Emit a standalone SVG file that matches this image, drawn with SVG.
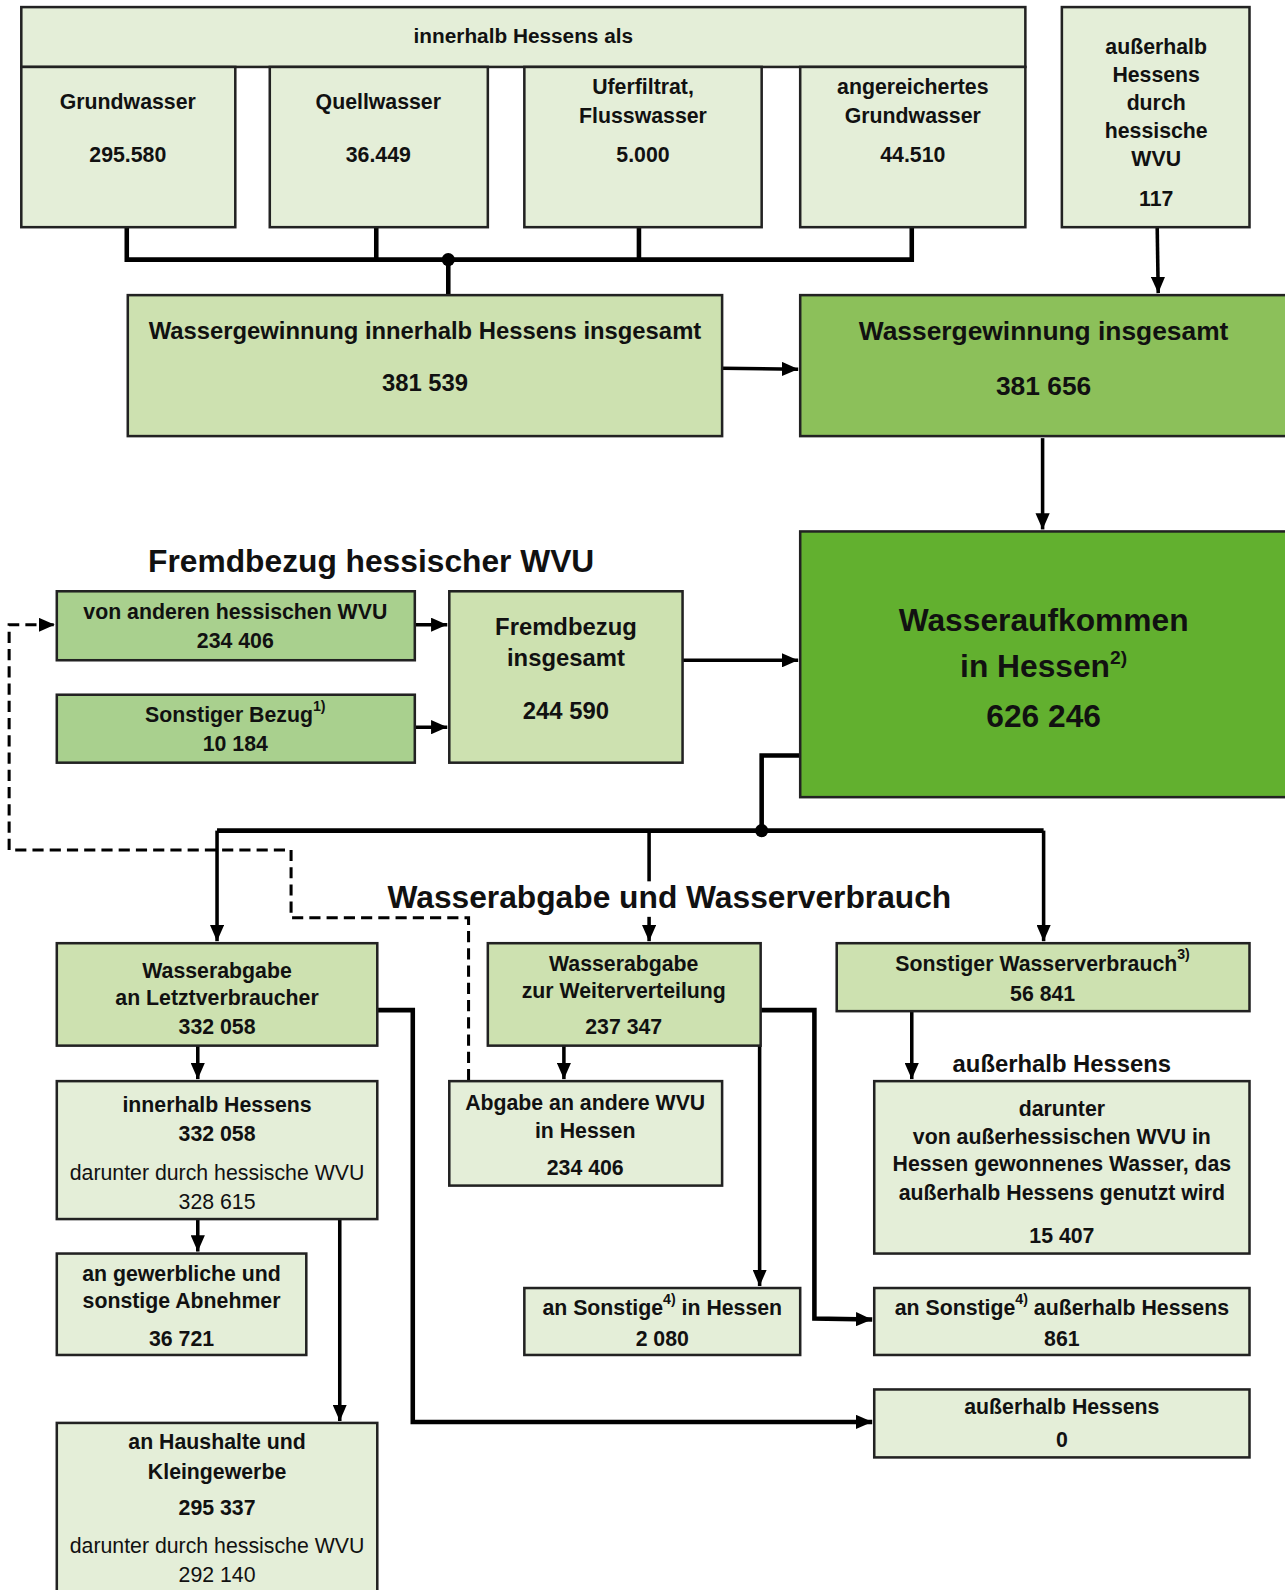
<svg xmlns="http://www.w3.org/2000/svg" width="1285" height="1590" viewBox="0 0 1285 1590">
<defs>
<style>
.t{font-family:"Liberation Sans",Arial,sans-serif;font-weight:bold;text-anchor:middle;font-size:21px;fill:#111}
.rg{font-weight:normal}
.f20{font-size:20.5px}.f23{font-size:23.5px}.f26{font-size:26px}.f31{font-size:31.3px}
.box{stroke:#222;stroke-width:2.5}
.c1{fill:#e4eed8}.c2{fill:#cde1b0}.c3{fill:#a9d08e}.c4{fill:#8cc05a}.c5{fill:#62b02f}
.ln{fill:none;stroke:#000;stroke-width:3.5}
.th{stroke-width:4.5}
.ar{marker-end:url(#ah)}
.ds{stroke-dasharray:11 6;stroke-width:3}
.sup{font-size:14px}
.sup2{font-size:19px}
</style>
<marker id="ah" markerUnits="userSpaceOnUse" markerWidth="16" markerHeight="14" refX="16" refY="7" orient="auto"><path d="M0,0 L16,7 L0,14 z" fill="#000"/></marker>
</defs>
<rect width="1285" height="1590" fill="#fff"/>
<g transform="scale(1.0142)">
<g id="connectors">
<path class="ln th" d="M125,224 V256 H899 V224 M371,224 V256 M630,224 V256 M442,256 V291"/>
<circle cx="442" cy="256" r="6.5"/>
<path class="ln ar" d="M712,363 L787,364"/>
<path class="ln ar" d="M1141,224 L1142,289"/>
<path class="ln ar" d="M1028,432 V522"/>
<path class="ln ar" d="M409,616 H441"/>
<path class="ln ar" d="M409,717 H441"/>
<path class="ln ar" d="M673,651 H787"/>
<path class="ln th" d="M789,745 H751 V819 M214,819 H1029"/>
<circle cx="751" cy="819" r="6.5"/>
<path class="ln ar" d="M214,819 V928"/>
<path class="ln" d="M640,819 V869"/>
<path class="ln ar" d="M640,904 V928"/>
<path class="ln ar" d="M1029,819 V928"/>
<path class="ln ds ar" d="M462,1065 V905 H287 V838 H9 V616 H54"/>
<path class="ln ar" d="M195,1031 V1064"/>
<path class="ln ar" d="M556,1031 V1064"/>
<path class="ln ar" d="M899,997 V1064"/>
<path class="ln ar" d="M195,1202 V1234"/>
<path class="ln ar" d="M335,1202 V1401"/>
<path class="ln th ar" d="M372,996 H407 V1402 H860"/>
<path class="ln th ar" d="M750,996 H803 V1300 L860,1301"/>
<path class="ln ar" d="M749,1031 V1268"/>
</g>
<g id="n-header"><rect class="box c1" x="21" y="7" width="990" height="59"/>
<text class="t f20" x="516" y="42">innerhalb Hessens als</text></g>
<g id="n-grundwasser"><rect class="box c1" x="21" y="66" width="211" height="158"/>
<text class="t" x="126" y="107">Grundwasser</text><text class="t" x="126" y="160">295.580</text></g>
<g id="n-quellwasser"><rect class="box c1" x="266" y="66" width="215" height="158"/>
<text class="t" x="373" y="107">Quellwasser</text><text class="t" x="373" y="160">36.449</text></g>
<g id="n-uferfiltrat"><rect class="box c1" x="517" y="66" width="234" height="158"/>
<text class="t" x="634" y="93">Uferfiltrat,</text><text class="t" x="634" y="121">Flusswasser</text><text class="t" x="634" y="160">5.000</text></g>
<g id="n-angereichert"><rect class="box c1" x="789" y="66" width="222" height="158"/>
<text class="t" x="900" y="93">angereichertes</text><text class="t" x="900" y="121">Grundwasser</text><text class="t" x="900" y="160">44.510</text></g>
<g id="n-ausserhalb"><rect class="box c1" x="1047" y="7" width="185" height="217"/>
<text class="t" x="1140" y="53">außerhalb</text><text class="t" x="1140" y="81">Hessens</text><text class="t" x="1140" y="108">durch</text><text class="t" x="1140" y="136">hessische</text><text class="t" x="1140" y="164">WVU</text><text class="t" x="1140" y="203">117</text></g>
<g id="n-gew-innerhalb"><rect class="box c2" x="126" y="291" width="586" height="139"/>
<text class="t f23" x="419" y="334">Wassergewinnung innerhalb Hessens insgesamt</text><text class="t f23" x="419" y="386">381 539</text></g>
<g id="n-gew-insgesamt"><rect class="box c4" x="789" y="291" width="490" height="139"/>
<text class="t f26" x="1029" y="335">Wassergewinnung insgesamt</text><text class="t f26" x="1029" y="389">381 656</text></g>
<g id="n-aufkommen"><rect class="box c5" x="789" y="524" width="490" height="262"/>
<text class="t f31" x="1029" y="622">Wasseraufkommen</text>
<text class="t f31" x="1029" y="668">in Hessen<tspan class="sup2" dy="-13">2)</tspan></text>
<text class="t f31" x="1029" y="717">626 246</text></g>
<text class="t f31" x="366" y="564">Fremdbezug hessischer WVU</text>
<g id="n-von-anderen"><rect class="box c3" x="56" y="583" width="353" height="68"/>
<text class="t" x="232" y="610">von anderen hessischen WVU</text><text class="t" x="232" y="639">234 406</text></g>
<g id="n-sonst-bezug"><rect class="box c3" x="56" y="685" width="353" height="67"/>
<text class="t" x="232" y="712">Sonstiger Bezug<tspan class="sup" dy="-11">1)</tspan></text><text class="t" x="232" y="740">10 184</text></g>
<g id="n-fremd-ges"><rect class="box c2" x="443" y="583" width="230" height="169"/>
<text class="t f23" x="558" y="626">Fremdbezug</text><text class="t f23" x="558" y="657">insgesamt</text><text class="t f23" x="558" y="709">244 590</text></g>
<text class="t f31" x="660" y="895">Wasserabgabe und Wasserverbrauch</text>
<g id="n-letztverbr"><rect class="box c2" x="56" y="930" width="316" height="101"/>
<text class="t" x="214" y="964">Wasserabgabe</text><text class="t" x="214" y="991">an Letztverbraucher</text><text class="t" x="214" y="1020">332 058</text></g>
<g id="n-weiterverteilung"><rect class="box c2" x="481" y="930" width="269" height="101"/>
<text class="t" x="615" y="957">Wasserabgabe</text><text class="t" x="615" y="984">zur Weiterverteilung</text><text class="t" x="615" y="1020">237 347</text></g>
<g id="n-sonst-verbr"><rect class="box c2" x="825" y="930" width="407" height="67"/>
<text class="t" x="1028" y="957">Sonstiger Wasserverbrauch<tspan class="sup" dy="-11">3)</tspan></text><text class="t" x="1028" y="987">56 841</text></g>
<g id="n-innerhalb"><rect class="box c1" x="56" y="1066" width="316" height="136"/>
<text class="t" x="214" y="1096">innerhalb Hessens</text><text class="t" x="214" y="1125">332 058</text><text class="t rg" x="214" y="1163">darunter durch hessische WVU</text><text class="t rg" x="214" y="1192">328 615</text></g>
<g id="n-abgabe-wvu"><rect class="box c1" x="443" y="1066" width="269" height="103"/>
<text class="t" x="577" y="1094">Abgabe an andere WVU</text><text class="t" x="577" y="1122">in Hessen</text><text class="t" x="577" y="1159">234 406</text></g>
<text class="t f23" x="1047" y="1057">außerhalb Hessens</text>
<g id="n-darunter"><rect class="box c1" x="862" y="1066" width="370" height="170"/>
<text class="t" x="1047" y="1100">darunter</text><text class="t" x="1047" y="1128">von außerhessischen WVU in</text><text class="t" x="1047" y="1155">Hessen gewonnenes Wasser, das</text><text class="t" x="1047" y="1183">außerhalb Hessens genutzt wird</text><text class="t" x="1047" y="1226">15 407</text></g>
<g id="n-gewerblich"><rect class="box c1" x="56" y="1236" width="246" height="100"/>
<text class="t" x="179" y="1263">an gewerbliche und</text><text class="t" x="179" y="1290">sonstige Abnehmer</text><text class="t" x="179" y="1327">36 721</text></g>
<g id="n-sonst-hessen"><rect class="box c1" x="517" y="1270" width="272" height="66"/>
<text class="t" x="653" y="1297">an Sonstige<tspan class="sup" dy="-11">4)</tspan><tspan dy="11"> in Hessen</tspan></text><text class="t" x="653" y="1327">2 080</text></g>
<g id="n-sonst-ausserhalb"><rect class="box c1" x="862" y="1270" width="370" height="66"/>
<text class="t" x="1047" y="1297">an Sonstige<tspan class="sup" dy="-11">4)</tspan><tspan dy="11"> außerhalb Hessens</tspan></text><text class="t" x="1047" y="1327">861</text></g>
<g id="n-ausserhalb-0"><rect class="box c1" x="862" y="1370" width="370" height="67"/>
<text class="t" x="1047" y="1394">außerhalb Hessens</text><text class="t" x="1047" y="1427">0</text></g>
<g id="n-haushalte"><rect class="box c1" x="56" y="1403" width="316" height="180"/>
<text class="t" x="214" y="1429">an Haushalte und</text><text class="t" x="214" y="1458">Kleingewerbe</text><text class="t" x="214" y="1494">295 337</text><text class="t rg" x="214" y="1531">darunter durch hessische WVU</text><text class="t rg" x="214" y="1560">292 140</text></g>
</g>
</svg>
